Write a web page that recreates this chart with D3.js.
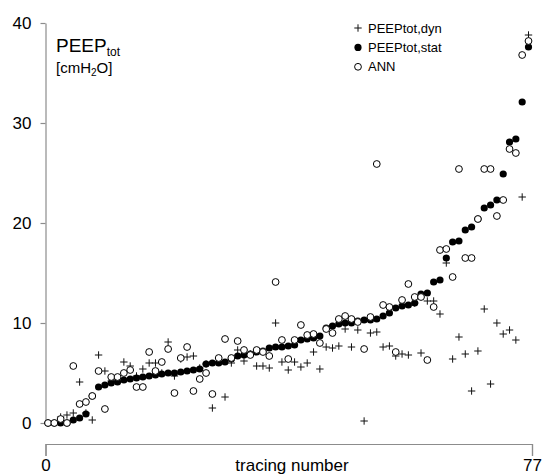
<!DOCTYPE html>
<html>
<head>
<meta charset="utf-8">
<script src="https://cdn.jsdelivr.net/npm/d3@7"></script>
<style>
    body { margin: 0; background: #fff; }
    svg { font-family: "Liberation Sans", Arial, sans-serif; }
    .axis path, .axis line { stroke: #8c8c8c; stroke-width: 1.2; }
    .axis text { fill: #000; font-size: 17px; }
</style>
</head>
<body>
<div id="chart"></div>
<script>
// tracings 1..77, sorted by PEEPtot,stat
const tracing = d3.range(1, 78);

const peep_stat = [0, 0, 0, 0, 0.3, 0.5, 0.9, 2.7, 3.6, 3.8,
    4.0, 4.1, 4.3, 4.4, 4.5, 4.6, 4.7, 4.8, 4.9, 5.0,
    5.0, 5.1, 5.2, 5.3, 5.4, 5.9, 6.0, 6.0, 6.1, 6.4,
    6.7, 6.8, 6.9, 7.1, 7.2, 7.5, 7.6, 7.6, 7.7, 7.8,
    8.3, 8.4, 8.5, 8.7, 9.5, 9.7, 9.9, 10.0, 10.0, 10.2,
    10.3, 10.3, 10.4, 10.7, 11.0, 11.5, 11.7, 11.8, 12.0, 12.9,
    13.0, 14.1, 14.3, 16.5, 18.1, 18.2, 19.3, 19.6, 20.4, 21.5,
    21.8, 22.3, 24.9, 28.1, 28.4, 32.1, 37.6];

const peep_dyn = [0, 0, 0.6, 0.8, 1.0, 4.1, 1.0, 0.3, 6.8, 5.2,
    4.2, 4.4, 6.1, 5.7, 4.7, 5.4, 6.0, 6.0, 5.0, 8.1,
    4.7, 6.4, 6.6, 6.7, 5.5, 5.9, 1.5, 6.1, 2.6, 6.0,
    7.3, 6.2, 6.9, 5.7, 5.7, 5.5, 10.0, 6.1, 5.3, 6.1,
    5.6, 6.0, 7.1, 5.4, 7.6, 7.5, 7.7, 9.4, 7.6, 9.3,
    0.2, 9.0, 9.1, 7.6, 7.7, 6.7, 6.9, 6.8, 12.0, 7.0,
    12.2, 12.2, 10.9, 16.0, 6.4, 8.6, 6.9, 3.2, 7.2, 11.4,
    3.9, 10.0, 8.9, 9.3, 8.3, 22.6, 38.8];

const ann = [0, 0, 0.4, 0, 5.7, 1.9, 2.1, 2.7, 5.2, 1.4,
    4.6, 4.6, 5.0, 5.3, 3.6, 3.6, 7.1, 5.2, 6.1, 7.4,
    3.0, 6.5, 7.6, 3.2, 4.4, 5.0, 2.9, 6.5, 8.4, 6.5,
    8.2, 7.3, 6.8, 7.3, 7.1, 6.7, 14.1, 8.3, 6.4, 8.3,
    9.8, 8.8, 8.9, 8.0, 9.4, 9.0, 10.4, 10.7, 10.4, 10.1,
    7.4, 10.6, 25.9, 11.8, 11.6, 7.1, 12.3, 13.9, 12.6, 12.6,
    6.3, 11.6, 17.3, 17.4, 14.6, 25.4, 16.5, 16.5, 20.4, 25.4,
    25.4, 20.7, 22.3, 27.4, 27.0, 36.8, 38.2];

const y_ticks = [0, 10, 20, 30, 40];
const x_ticks = [0, 77];
const legend_labels = ["PEEPtot,dyn", "PEEPtot,stat", "ANN"];

const width = 542, height = 476;

let svg = d3.select("#chart")
    .append("svg")
    .attr("width", width)
    .attr("height", height);

let y = d3.scaleLinear().domain([0, 40]).range([423, 23]);
let x_axis = d3.scaleLinear().domain([0, 77]).range([45.5, 532]);
let x = d3.scaleLinear().domain([1, 77]).range([48, 528.5]);

// y axis
svg.append("g")
    .attr("class", "axis")
    .attr("transform", "translate(45.5, 0)")
    .call(d3.axisLeft(y)
        .tickValues(y_ticks)
        .tickSizeInner(5)
        .tickSizeOuter(0)
        .tickPadding(9));

// x axis as a bracket below the plot
svg.append("g")
    .attr("class", "axis")
    .attr("transform", "translate(0, 444)")
    .call(d3.axisBottom(x_axis)
        .tickValues(x_ticks)
        .tickSizeInner(12)
        .tickSizeOuter(12)
        .tickPadding(3));

svg.selectAll(".axis text").attr("font-family", null);

svg.append("text")
    .attr("x", 292)
    .attr("y", 471)
    .attr("text-anchor", "middle")
    .style("font-size", "17px")
    .text("tracing number");

// y title
let title = svg.append("text")
    .attr("x", 56)
    .attr("y", 52)
    .style("font-size", "19px");
title.append("tspan").text("PEEP");
title.append("tspan").attr("dy", 4).style("font-size", "12px").text("tot");

let unit = svg.append("text")
    .attr("x", 56)
    .attr("y", 73)
    .style("font-size", "15px");
unit.append("tspan").text("[cmH");
unit.append("tspan").attr("dy", 3).style("font-size", "10px").text("2");
unit.append("tspan").attr("dy", -3).text("O]");

function plus_path(s) {
    return "M" + (-s) + ",0H" + s + "M0," + (-s) + "V" + s;
}

// PEEPtot,dyn
svg.append("g")
    .selectAll("path")
    .data(tracing)
    .enter()
    .append("path")
    .attr("transform", function (d, i) {
        return "translate(" + x(d) + "," + y(peep_dyn[i]) + ")";
    })
    .attr("d", plus_path(3.7))
    .attr("stroke", "#111")
    .attr("stroke-width", 1)
    .attr("fill", "none");

// PEEPtot,stat
svg.append("g")
    .selectAll("circle")
    .data(tracing)
    .enter()
    .append("circle")
    .attr("cx", function (d) { return x(d); })
    .attr("cy", function (d, i) { return y(peep_stat[i]); })
    .attr("r", 3.6)
    .attr("fill", "#000");

// ANN
svg.append("g")
    .selectAll("circle")
    .data(tracing)
    .enter()
    .append("circle")
    .attr("cx", function (d) { return x(d); })
    .attr("cy", function (d, i) { return y(ann[i]); })
    .attr("r", 3.4)
    .attr("fill", "#fff")
    .attr("stroke", "#000")
    .attr("stroke-width", 1);

// legend
let legend = svg.append("g").attr("transform", "translate(358, 28)");
legend_labels.forEach(function (lab, i) {
    let g = legend.append("g").attr("transform", "translate(0," + (i * 19.4) + ")");
    if (i === 0) {
        g.append("path").attr("d", plus_path(3.7))
            .attr("stroke", "#111").attr("fill", "none");
    } else if (i === 1) {
        g.append("circle").attr("r", 3.6).attr("fill", "#000");
    } else {
        g.append("circle").attr("r", 3.4).attr("fill", "#fff")
            .attr("stroke", "#000");
    }
    g.append("text")
        .attr("x", 10)
        .attr("y", 4.5)
        .style("font-size", "13px")
        .text(lab);
});
</script>
</body>
</html>
